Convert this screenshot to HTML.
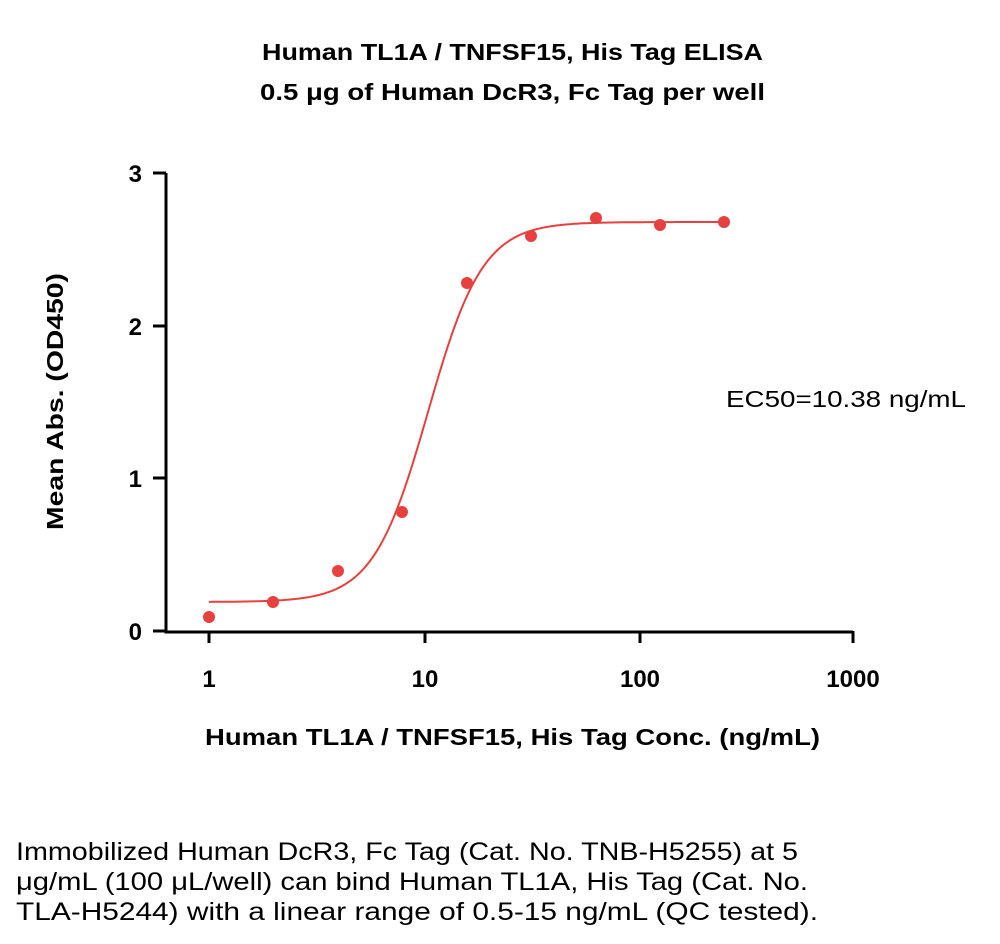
<!DOCTYPE html>
<html><head><meta charset="utf-8"><style>
html,body{margin:0;padding:0;background:#fff;}
body{width:1000px;height:944px;overflow:hidden;position:relative;font-family:"Liberation Sans",sans-serif;}
</style></head><body>
<svg width="1000" height="944" xmlns="http://www.w3.org/2000/svg" style="position:absolute;left:0;top:0">
<g font-family="Liberation Sans, sans-serif" font-weight="bold" font-size="23" fill="#000">
<text x="262" y="60" textLength="501" lengthAdjust="spacingAndGlyphs">Human TL1A / TNFSF15, His Tag  ELISA</text>
<text x="260" y="100" textLength="505" lengthAdjust="spacingAndGlyphs">0.5 μg of Human DcR3, Fc Tag per well</text>
<text x="205" y="745" textLength="615" lengthAdjust="spacingAndGlyphs">Human TL1A / TNFSF15, His Tag  Conc. (ng/mL)</text>
<text transform="translate(63,530) rotate(-90)" textLength="257" lengthAdjust="spacingAndGlyphs">Mean Abs. (OD450)</text>
</g>
<g font-family="Liberation Sans, sans-serif" font-weight="bold" font-size="24" fill="#000" text-anchor="middle">
<text x="209" y="687">1</text><text x="425" y="687">10</text><text x="640" y="687">100</text><text x="853" y="687">1000</text>
<text x="142" y="640" text-anchor="end">0</text><text x="142" y="487" text-anchor="end">1</text>
<text x="142" y="335" text-anchor="end">2</text><text x="142" y="182" text-anchor="end">3</text>
</g>
<g stroke="#000" stroke-width="3" fill="none">
<path d="M166,173 V632 H853"/>
<path d="M153,173H166M153,326H166M153,478H166M153,631H166"/>
<path d="M209,631V643M425,631V643M640,631V643M853,631V643"/>
</g>
<path id="curve" d="" stroke="#e8403f" stroke-width="2" fill="none"/>
<g fill="#e8403f">
<circle cx="209" cy="617" r="6"/><circle cx="273" cy="602" r="6"/><circle cx="338" cy="571" r="6"/>
<circle cx="402" cy="512" r="6"/><circle cx="467" cy="283" r="6"/><circle cx="531" cy="236" r="6"/>
<circle cx="596" cy="218" r="6"/><circle cx="660" cy="225" r="6"/><circle cx="724" cy="222" r="6"/>
</g>
<text x="726" y="407" font-family="Liberation Sans, sans-serif" font-size="23" textLength="240" lengthAdjust="spacingAndGlyphs">EC50=10.38 ng/mL</text>
<g font-family="Liberation Sans, sans-serif" font-size="25">
<text x="16" y="860" textLength="782" lengthAdjust="spacingAndGlyphs">Immobilized Human DcR3, Fc Tag (Cat. No. TNB-H5255) at 5</text>
<text x="16" y="890" textLength="792" lengthAdjust="spacingAndGlyphs">μg/mL (100 μL/well) can bind Human TL1A, His Tag (Cat. No.</text>
<text x="16" y="920" textLength="802" lengthAdjust="spacingAndGlyphs">TLA-H5244) with a linear range of 0.5-15 ng/mL (QC tested).</text>
</g>
</svg>
<script>
var d="";for(var px=209;px<=724;px+=2){var u=(px-428)/215;var f=1/(1+Math.pow(10,-3.4*u));var y=602-380*f;d+=(px==209?"M":"L")+px+","+y.toFixed(1);}
document.getElementById("curve").setAttribute("d",d);
</script>
</body></html>
